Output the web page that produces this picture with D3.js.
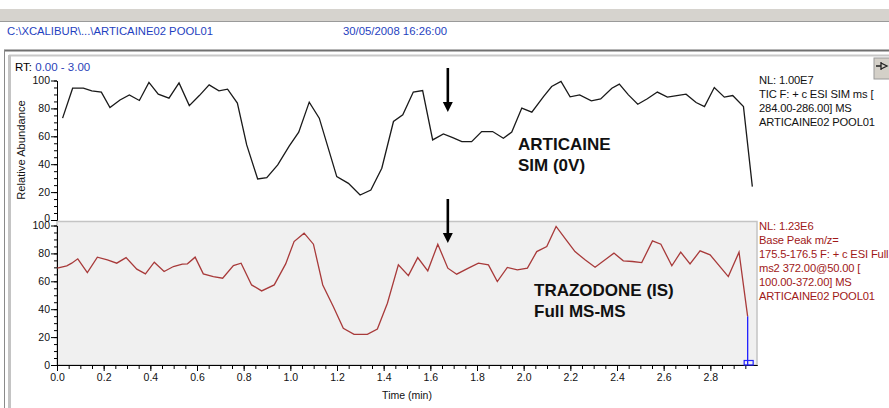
<!DOCTYPE html>
<html><head><meta charset="utf-8">
<script src="https://cdn.jsdelivr.net/npm/d3@7"></script>
<style>
html,body{margin:0;padding:0;background:#fff;}
svg{display:block;font-family:"Liberation Sans",Arial,sans-serif;}
</style></head>
<body>
<script>
// ---- data ----
const articaineTime = [0.024,0.067,0.113,0.149,0.19,0.227,0.27,0.31,0.353,0.394,0.434,0.48,0.523,0.567,0.61,0.652,0.694,0.731,0.773,0.813,0.86,0.899,0.946,0.995,1.036,1.081,1.124,1.199,1.249,1.299,1.345,1.392,1.442,1.482,1.527,1.567,1.61,1.656,1.696,1.735,1.777,1.82,1.867,1.913,1.949,1.992,2.035,2.085,2.12,2.16,2.199,2.24,2.29,2.33,2.378,2.41,2.449,2.489,2.53,2.573,2.616,2.656,2.696,2.739,2.775,2.817,2.86,2.896,2.942,2.98];
const articaineAbund = [73,94.5,94.5,92.6,91.6,80.6,86,89.7,85.7,98.6,90.2,87.3,98.3,82,89.2,96.9,92.6,93.8,83.8,53.8,29.4,30.4,39.5,53,63,84.5,73,31.1,26.3,17.9,21.5,37.1,70.6,75.4,91.7,92.8,57.4,61.7,59.1,56.2,56.2,63.4,63.4,58.6,63,80.2,77.3,88.5,95.7,99.3,88.3,89.7,85.4,86.8,94.5,97.4,89.7,83,86.9,91.7,88.1,89.2,90.2,84.2,81.3,95,88.1,89.2,81.3,23.9];
const trazodoneTime = [0.001,0.042,0.063,0.089,0.13,0.173,0.216,0.256,0.296,0.342,0.379,0.417,0.459,0.499,0.537,0.559,0.592,0.627,0.67,0.71,0.756,0.789,0.834,0.877,0.931,0.98,1.016,1.059,1.099,1.139,1.184,1.227,1.273,1.33,1.373,1.416,1.463,1.506,1.546,1.589,1.632,1.675,1.713,1.763,1.806,1.849,1.887,1.93,1.973,2.016,2.056,2.099,2.139,2.182,2.22,2.263,2.306,2.387,2.427,2.466,2.506,2.552,2.588,2.635,2.673,2.713,2.756,2.799,2.877,2.923,2.96];
const trazodoneAbund = [69.4,71.1,73,76.1,66.3,77.3,75.4,73,77,68.7,65.3,73.7,67,70.6,72.3,72.5,77.3,65.3,63.4,62.2,71.3,73,57.4,53.1,57.4,72.5,88.5,94.5,86.6,57.4,41.9,26.3,22,22,25.8,44.3,71.8,64.1,77,67.5,86.6,69.4,65.1,69.4,73,71.8,59.8,69.9,68.2,69.4,81.3,84.9,99.3,89.7,81.3,75.4,70.1,80.2,74.7,74.2,73.4,89,86.6,71.1,80.9,72.5,81.8,79,63.4,80.9,34.7];
const yTickLabels = [0,20,40,60,80,100];
const xTickLabels = [0.0,0.2,0.4,0.6,0.8,1.0,1.2,1.4,1.6,1.8,2.0,2.2,2.4,2.6,2.8];
const arrowTime = 1.675;
const headerPath = "C:\\XCALIBUR\\...\\ARTICAINE02 POOL01";
const headerDate = "30/05/2008 16:26:00";
const topInfo = ["NL: 1.00E7","TIC F: + c ESI SIM ms [","284.00-286.00]  MS","ARTICAINE02 POOL01"];
const botInfo = ["NL: 1.23E6","Base Peak m/z=","175.5-176.5 F: + c ESI Full","ms2 372.00@50.00 [","100.00-372.00]  MS","ARTICAINE02 POOL01"];

const W=889,H=408;
const svg=d3.select("body").append("svg").attr("width",W).attr("height",H);

// window chrome
svg.append("rect").attr("x",0).attr("y",9).attr("width",W).attr("height",12).attr("fill","#d6d3ce");
svg.append("line").attr("x1",0).attr("x2",W).attr("y1",21.5).attr("y2",21.5).attr("stroke","#9a9a9a");
svg.append("text").attr("x",7).attr("y",35).attr("font-size",11).attr("fill","#1f3fc0")
  .attr("textLength",206).attr("lengthAdjust","spacingAndGlyphs").text(headerPath);
svg.append("text").attr("x",343).attr("y",35).attr("font-size",11).attr("fill","#1f3fc0")
  .attr("textLength",104).attr("lengthAdjust","spacingAndGlyphs").text(headerDate);
svg.append("line").attr("x1",4).attr("x2",W).attr("y1",50.5).attr("y2",50.5).attr("stroke","#707070").attr("stroke-width",2);
svg.append("line").attr("x1",4.5).attr("x2",4.5).attr("y1",50).attr("y2",H).attr("stroke","#8a8a8a").attr("stroke-width",1);
svg.append("line").attr("x1",9).attr("x2",W).attr("y1",55.5).attr("y2",55.5).attr("stroke","#c8c8c8").attr("stroke-width",2);
svg.append("line").attr("x1",9.5).attr("x2",9.5).attr("y1",55).attr("y2",H).attr("stroke","#c4c4c4").attr("stroke-width",3);

// pin button
const pin=svg.append("g");
pin.append("rect").attr("x",874).attr("y",58).attr("width",16).attr("height",21).attr("fill","#d4d0c8").attr("stroke","#9a9a9a");
pin.append("path").attr("d","M876,66 H881 M881,62 V70 M881,63 L887,66 L881,69").attr("stroke","#222").attr("fill","none").attr("stroke-width",1.3);

// scales
const x=d3.scaleLinear().domain([0,3]).range([57,757]);
const yTop=d3.scaleLinear().domain([0,100]).range([220,80.5]);
const yBot=d3.scaleLinear().domain([0,100]).range([365,225.5]);

// bottom panel background
svg.append("rect").attr("x",x(0)).attr("y",221.5).attr("width",x(3)-x(0)).attr("height",yBot(0)-221.5)
  .attr("fill","#f0f0f0").attr("stroke","#c4c4c4").attr("stroke-width",1.5);

// RT label
const rt=svg.append("text").attr("x",15).attr("y",71).attr("font-size",11.5);
rt.append("tspan").attr("fill","#000").text("RT: ");
rt.append("tspan").attr("fill","#2a3fb8").text("0.00 - 3.00");

function styleAxis(g){
  g.selectAll("path,line").attr("stroke","#000");
  g.selectAll("text").attr("font-size",10.5).attr("fill","#111").attr("font-family","Liberation Sans, Arial, sans-serif");
}
function yAxes(scale){
  const gm=svg.append("g").attr("transform",`translate(${x(0)},0)`)
    .call(d3.axisLeft(scale).tickValues(d3.range(0,101,5)).tickSize(3).tickSizeOuter(0).tickFormat(""));
  styleAxis(gm);
  const g=svg.append("g").attr("transform",`translate(${x(0)},0)`)
    .call(d3.axisLeft(scale).tickValues(yTickLabels).tickSize(6).tickSizeOuter(0).tickFormat(d3.format("d")).tickPadding(1));
  styleAxis(g);
  return g;
}
const gyTop=yAxes(yTop);
yAxes(yBot);
// top panel "0" sits slightly higher, as in the reference, so it just touches the lower "100"
gyTop.selectAll(".tick text").filter(d=>d===0).attr("dy","0.12em");

// x axis
const gxm=svg.append("g").attr("transform",`translate(0,${yBot(0)})`)
  .call(d3.axisBottom(x).tickValues(d3.range(0,2.96,0.05)).tickSize(4).tickSizeOuter(0).tickFormat(""));
styleAxis(gxm);
const gx=svg.append("g").attr("transform",`translate(0,${yBot(0)})`)
  .call(d3.axisBottom(x).tickValues(xTickLabels).tickSize(6).tickSizeOuter(0).tickFormat(d3.format(".1f")).tickPadding(3));
styleAxis(gx);

svg.append("text").attr("x",(x(0)+x(3))/2).attr("y",399).attr("text-anchor","middle").attr("font-size",10.5).attr("fill","#111").text("Time (min)");
svg.append("text").attr("transform",`translate(25,150) rotate(-90)`).attr("text-anchor","middle").attr("font-size",11.2).attr("fill","#111").text("Relative Abundance");

// traces
const topData=articaineTime.map((t,i)=>[t,articaineAbund[i]]);
const botData=trazodoneTime.map((t,i)=>[t,trazodoneAbund[i]]);
svg.append("path").datum(topData).attr("fill","none").attr("stroke","#1a1a1a").attr("stroke-width",1.3)
  .attr("d",d3.line().x(d=>x(d[0])).y(d=>yTop(d[1])));
svg.append("path").datum(botData).attr("fill","none").attr("stroke","#a83a3a").attr("stroke-width",1.3)
  .attr("d",d3.line().x(d=>x(d[0])).y(d=>yBot(d[1])));

// blue scan marker
const last=botData[botData.length-1];
svg.append("line").attr("x1",x(last[0])).attr("x2",x(last[0])).attr("y1",yBot(last[1])).attr("y2",yBot(0)).attr("stroke","#2020ff").attr("stroke-width",1.3);
svg.append("rect").attr("x",x(last[0])-3.5).attr("y",yBot(0)-4.5).attr("width",9).attr("height",4.5).attr("fill","none").attr("stroke","#2020ff").attr("stroke-width",1.2);

// arrows
function arrow(y1,y2){
  const ax=x(arrowTime);
  svg.append("line").attr("x1",ax).attr("x2",ax).attr("y1",y1).attr("y2",y2-9).attr("stroke","#000").attr("stroke-width",2.6);
  svg.append("path").attr("d",`M${ax-5},${y2-10} L${ax+5},${y2-10} L${ax},${y2} Z`).attr("fill","#000");
}
arrow(68,112);
arrow(199,243);

// compound labels
function bigLabel(lines,x0,y0){
  lines.forEach((s,i)=>svg.append("text").attr("x",x0).attr("y",y0+i*21).attr("font-size",17).attr("font-weight","bold").attr("fill","#111").text(s));
}
bigLabel(["ARTICAINE","SIM (0V)"],518,150);
bigLabel(["TRAZODONE (IS)","Full MS-MS"],534,296);

// info text
function info(lines,y0,color){
  lines.forEach((s,i)=>svg.append("text").attr("x",759).attr("y",y0+i*14).attr("font-size",11.2).attr("fill",color).attr("letter-spacing",-0.15).text(s));
}
info(topInfo,84,"#111");
info(botInfo,230,"#a01818");
</script>
</body></html>
